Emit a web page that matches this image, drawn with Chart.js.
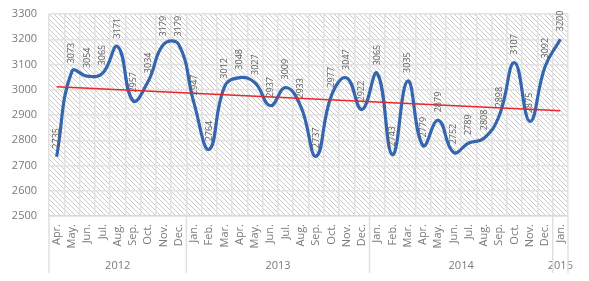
<!DOCTYPE html>
<html>
<head>
<meta charset="utf-8">
<script src="https://cdn.jsdelivr.net/npm/chart.js@4/dist/chart.umd.min.js"></script>
<style>
html,body{margin:0;padding:0;background:#fff;}
#wrap{width:589px;height:281px;position:relative;}
</style>
</head>
<body>
<div id="wrap"><canvas id="c" width="589" height="281"></canvas></div>
<script>
const months = ['Apr.','May.','Jun.','Jul.','Aug.','Sep.','Oct.','Nov.','Dec.',
  'Jan.','Feb.','Mar.','Apr.','May.','Jun.','Jul.','Aug.','Sep.','Oct.','Nov.','Dec.',
  'Jan.','Feb.','Mar.','Apr.','May.','Jun.','Jul.','Aug.','Sep.','Oct.','Nov.','Dec.',
  'Jan.'];
const years = ['2012','2013','2014','2015'];
const yearCounts = [9,12,12,1];
const values = [2735,3073,3054,3065,3171,2957,3034,3179,3179,
  2947,2764,3012,3048,3027,2937,3009,2933,2737,2977,3047,2922,
  3065,2743,3035,2779,2879,2752,2789,2808,2898,3107,2875,3092,
  3200];
const trendStart = 3012;
const trendEnd = 2917;
const yTicks = [2500,2600,2700,2800,2900,3000,3100,3200,3300];

const trend = values.map((v,i)=> i===0 ? trendStart : (i===values.length-1 ? trendEnd : null));

const FONT = "'Open Sans', 'Noto Sans', sans-serif";

function makePattern(ctx){
  const s = 5;
  const c = document.createElement('canvas');
  c.width = s; c.height = s;
  const g = c.getContext('2d');
  g.fillStyle = '#ffffff';
  g.fillRect(0,0,s,s);
  g.strokeStyle = '#c9c9c9';
  g.lineWidth = 1;
  g.beginPath();
  g.moveTo(-1,-1); g.lineTo(s+1,s+1);
  g.moveTo(-1,s-1); g.lineTo(1,s+1);
  g.moveTo(s-1,-1); g.lineTo(s+1,1);
  g.stroke();
  return ctx.createPattern(c,'repeat');
}

const bgPlugin = {
  id:'bgHatch',
  beforeDraw(chart){
    const {ctx, chartArea:a} = chart;
    ctx.save();
    ctx.fillStyle = '#ffffff';
    ctx.fillRect(0,0,chart.width,chart.height);
    ctx.fillStyle = makePattern(ctx);
    ctx.fillRect(a.left,a.top,a.right-a.left,a.bottom-a.top);
    ctx.restore();
  }
};

const labelPlugin = {
  id:'dataLabels',
  afterDatasetsDraw(chart){
    const {ctx} = chart;
    const meta = chart.getDatasetMeta(0);
    ctx.save();
    ctx.fillStyle = '#5f5f5f';
    ctx.font = "9px " + FONT;
    ctx.textAlign = 'left';
    ctx.textBaseline = 'middle';
    meta.data.forEach((pt,i)=>{
      ctx.save();
      ctx.translate(pt.x, pt.y - 8);
      ctx.rotate(-Math.PI/2);
      ctx.fillText(String(values[i]),0,0);
      ctx.restore();
    });
    ctx.restore();
  }
};

const yearPlugin = {
  id:'years',
  afterDraw(chart){
    const {ctx, chartArea:a} = chart;
    const xs = chart.scales.x;
    const half = (xs.getPixelForValue(1)-xs.getPixelForValue(0))/2;
    ctx.save();
    ctx.strokeStyle = '#e0e0e0';
    ctx.lineWidth = 1.5;
    let idx = 0;
    const bounds = [a.left];
    years.forEach((y,k)=>{
      const start = idx, end = idx + yearCounts[k] - 1;
      const x0 = xs.getPixelForValue(start) - half;
      const x1 = xs.getPixelForValue(end) + half;
      bounds.push(x1);
      ctx.fillStyle = '#7a7a7a';
      ctx.font = "11px " + FONT;
      ctx.textAlign = 'center';
      ctx.textBaseline = 'middle';
      ctx.fillText(y,(x0+x1)/2, 266);
      idx += yearCounts[k];
    });
    bounds.forEach(x=>{
      ctx.beginPath();
      ctx.moveTo(x, a.bottom);
      ctx.lineTo(x, 273);
      ctx.stroke();
    });
    ctx.restore();
  }
};

new Chart(document.getElementById('c'),{
  type:'line',
  data:{
    labels: months,
    datasets:[
      {data: values, borderColor:'#3565ad', borderWidth:3.2, pointRadius:0, tension:0.45, fill:false, order:1},
      {data: trend, borderColor:'#e8262b', borderWidth:1.5, pointRadius:0, tension:0, spanGaps:true, fill:false, order:0}
    ]
  },
  options:{
    responsive:false,
    animation:false,
    events:[],
    layout:{padding:{top:14,right:21,left:0,bottom:0}},
    plugins:{legend:{display:false}, tooltip:{enabled:false}, title:{display:false}},
    scales:{
      x:{
        offset:true,
        grid:{offset:true, color:'#e2e2e2', lineWidth:1.5, drawTicks:false},
        border:{color:'#d9d9d9', width:1.5},
        ticks:{autoSkip:false, minRotation:90, maxRotation:90, padding:8,
          color:'#7a7a7a', font:{family:FONT, size:11}},
        afterFit(s){ s.height = 65; s.paddingTop = 0; s.paddingBottom = 0; s.paddingLeft = 0; s.paddingRight = 0; }
      },
      y:{
        min:2500, max:3300,
        afterBuildTicks(s){ s.ticks = yTicks.map(v=>({value:v})); },
        grid:{color:'#e2e2e2', lineWidth:1.5, drawTicks:false},
        border:{display:false},
        ticks:{padding:12, color:'#7a7a7a', font:{family:FONT, size:11},
          callback:(v)=>String(v)},
        afterFit(s){ s.width = 49; s.paddingTop = 0; s.paddingBottom = 0; s.paddingLeft = 0; s.paddingRight = 0; }
      }
    }
  },
  plugins:[bgPlugin, labelPlugin, yearPlugin]
});
</script>
</body>
</html>
